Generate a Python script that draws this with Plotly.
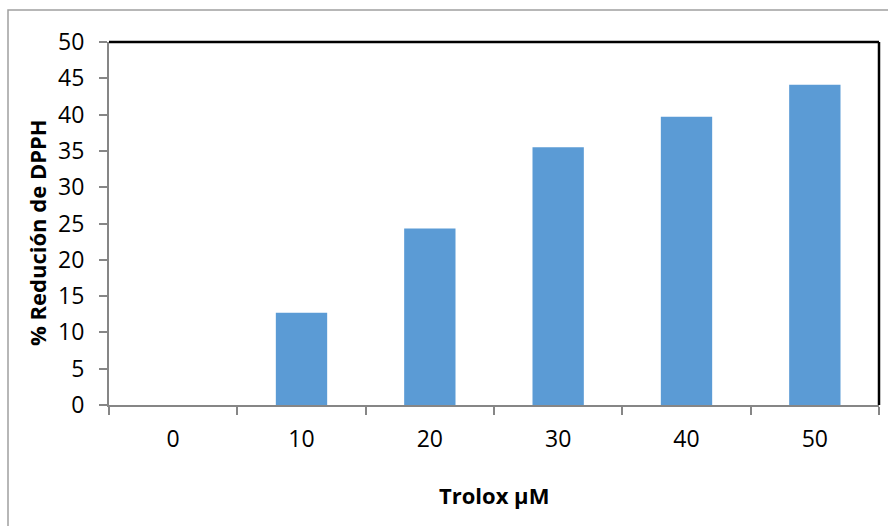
import plotly.graph_objects as go

categories = ["0", "10", "20", "30", "40", "50"]
values = [0, 12.7, 24.3, 35.5, 39.7, 44.1]
y_ticks = [0, 5, 10, 15, 20, 25, 30, 35, 40, 45, 50]

FONT = "Open Sans"

fig = go.Figure()
fig.add_trace(go.Bar(
    x=categories, y=values,
    marker=dict(color="#5B9BD5", line=dict(width=0)),
    width=0.4,
))

fig.update_layout(
    width=888, height=526,
    margin=dict(l=109, r=9, t=42, b=121),
    paper_bgcolor="white", plot_bgcolor="white",
    showlegend=False,
    font=dict(family=FONT, size=20, color="black"),
    xaxis=dict(
        type="category", tickson="boundaries",
        ticks="outside", ticklen=8, tickcolor="#868686", tickwidth=1.5,
        showline=True, linecolor="#868686", linewidth=2,
        showgrid=False, tickfont=dict(size=23), ticklabelstandoff=12,
    ),
    yaxis=dict(
        range=[0, 50], tickvals=y_ticks,
        ticks="outside", ticklen=8, tickcolor="#868686", tickwidth=1.5,
        showline=True, linecolor="#868686", linewidth=2,
        showgrid=False, zeroline=False, tickfont=dict(size=23),
        ticklabelstandoff=10,
    ),
    shapes=[
        dict(type="line", xref="paper", yref="paper", x0=0, x1=1, y0=1, y1=1,
             line=dict(color="black", width=2.5)),
        dict(type="line", xref="paper", yref="paper", x0=1, x1=1, y0=0, y1=1,
             line=dict(color="black", width=2.5)),
        dict(type="rect", xref="paper", yref="paper",
             x0=-101/770, x1=1.1, y0=-1.0, y1=1 + 32/363,
             line=dict(color="#A0A0A0", width=1.5), layer="below"),
    ],
    annotations=[
        dict(text="<b>Trolox µM</b>", xref="paper", yref="paper",
             x=0.5, y=-(495 - 405) / 363, xanchor="center", yanchor="middle",
             showarrow=False, font=dict(size=22)),
        dict(text="<b>% Redución de DPPH</b>", xref="paper", yref="paper",
             x=-(109 - 37) / 770, y=(405 - 233) / 363, xanchor="center", yanchor="middle",
             textangle=-90, showarrow=False, font=dict(size=22)),
    ],
)

fig.write_html("out.html", config={"displayModeBar": False},
               post_script="document.body.style.margin='0';")
